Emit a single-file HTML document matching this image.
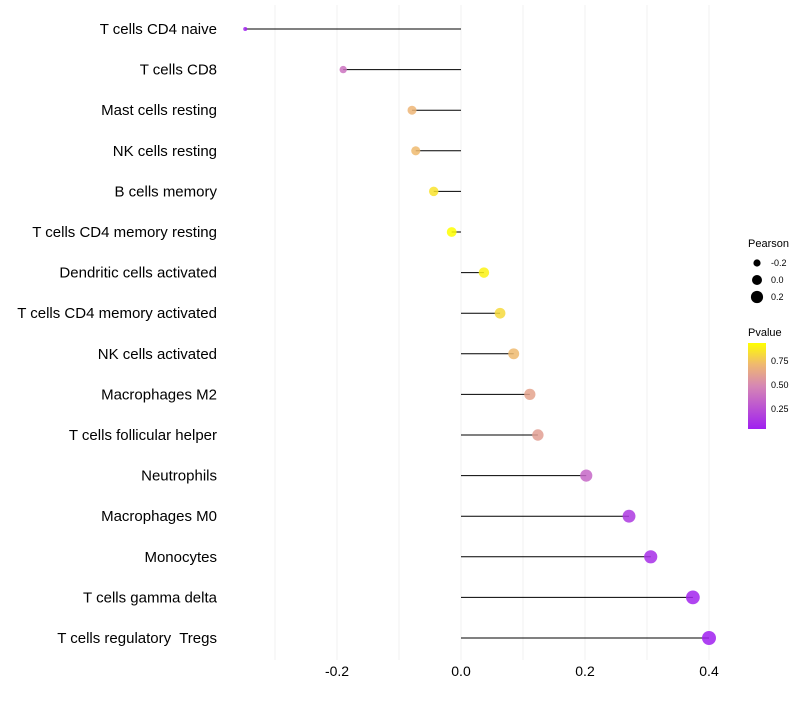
<!DOCTYPE html>
<html><head><meta charset="utf-8"><style>
body{margin:0;background:#fff;font-family:"Liberation Sans",sans-serif}
text{white-space:pre}
</style></head><body>
<svg id="chart" width="800" height="700" xmlns="http://www.w3.org/2000/svg">
<defs><linearGradient id="pg" x1="0" y1="1" x2="0" y2="0">
<stop offset="0" stop-color="#A020F0"/><stop offset="0.5" stop-color="#D687B4"/><stop offset="0.75" stop-color="#EFB870"/><stop offset="1" stop-color="#FFFF00"/></linearGradient></defs>
<g id="grid"></g><g id="marks"></g><g id="labels"></g>
<g font-size="10">
<text x="748" y="247" font-size="11">Pearson</text>
<circle cx="757" cy="263" r="3.6" fill="#000"/><text x="771" y="266" font-size="9">-0.2</text>
<circle cx="757" cy="280" r="5" fill="#000"/><text x="771" y="283" font-size="9">0.0</text>
<circle cx="757" cy="297" r="6.1" fill="#000"/><text x="771" y="300" font-size="9">0.2</text>
</g>
<g>
<text x="748" y="336" font-size="11">Pvalue</text>
<rect x="748" y="343" width="18" height="86" fill="url(#pg)"/>
<text x="771" y="364" font-size="9">0.75</text><text x="771" y="388" font-size="9">0.50</text><text x="771" y="412" font-size="9">0.25</text>
</g>
</svg>
<script>
const categories=["T cells CD4 naive","T cells CD8","Mast cells resting","NK cells resting","B cells memory","T cells CD4 memory resting","Dendritic cells activated","T cells CD4 memory activated","NK cells activated","Macrophages M2","T cells follicular helper","Neutrophils","Macrophages M0","Monocytes","T cells gamma delta","T cells regulatory  Tregs"];
const pearson=[-0.348,-0.190,-0.079,-0.073,-0.044,-0.015,0.037,0.063,0.085,0.111,0.124,0.202,0.271,0.306,0.374,0.400];
const pvalues=[0.05,0.4,0.7,0.72,0.85,0.94,0.9,0.82,0.72,0.62,0.6,0.35,0.15,0.1,0.06,0.04];
const xTicks=[-0.2,0.0,0.2,0.4];
const xGrid=[-0.3,-0.2,-0.1,0,0.1,0.2,0.3,0.4];
const NS="http://www.w3.org/2000/svg";
const xs=v=>461+v*620;
const ys=i=>29+i*40.6;
const rs=v=>Math.sqrt(Math.max(1,25+60*v));
function lerp(a,b,t){return a.map((x,i)=>Math.round(x+(b[i]-x)*t));}
const stops=[[0,[160,32,240]],[0.5,[214,135,180]],[0.75,[239,184,112]],[1,[255,255,0]]];
function col(p){let t=(p-0.04)/0.9;t=Math.max(0,Math.min(1,t));for(let i=1;i<stops.length;i++){if(t<=stops[i][0]){const c=lerp(stops[i-1][1],stops[i][1],(t-stops[i-1][0])/(stops[i][0]-stops[i-1][0]));return `rgb(${c})`;}}return "rgb(255,255,0)";}
function mk(tag,attrs,parent){const e=document.createElementNS(NS,tag);for(const k in attrs)e.setAttribute(k,attrs[k]);document.getElementById(parent).appendChild(e);return e;}
xGrid.forEach(v=>{const l=mk("line",{x1:xs(v),x2:xs(v),y1:5,y2:660,stroke:"#f0f0f0","stroke-width":1},"grid");

});
xTicks.forEach(v=>{const t=mk("text",{x:xs(v),y:676,"text-anchor":"middle","font-size":14,fill:"#000"},"labels");t.textContent=v.toFixed(1);

});
categories.forEach((c,i)=>{const y=ys(i);
const t=mk("text",{x:217,y:y+5,"text-anchor":"end","font-size":15,fill:"#000"},"labels");t.textContent=c;


const l=mk("line",{x1:xs(0),x2:xs(pearson[i]),y1:y,y2:y,stroke:"#000","stroke-width":1},"marks");


const d=mk("circle",{cx:xs(pearson[i]),cy:y,r:rs(pearson[i]),fill:col(pvalues[i]),"fill-opacity":0.85},"marks");

});
</script>
</body></html>
